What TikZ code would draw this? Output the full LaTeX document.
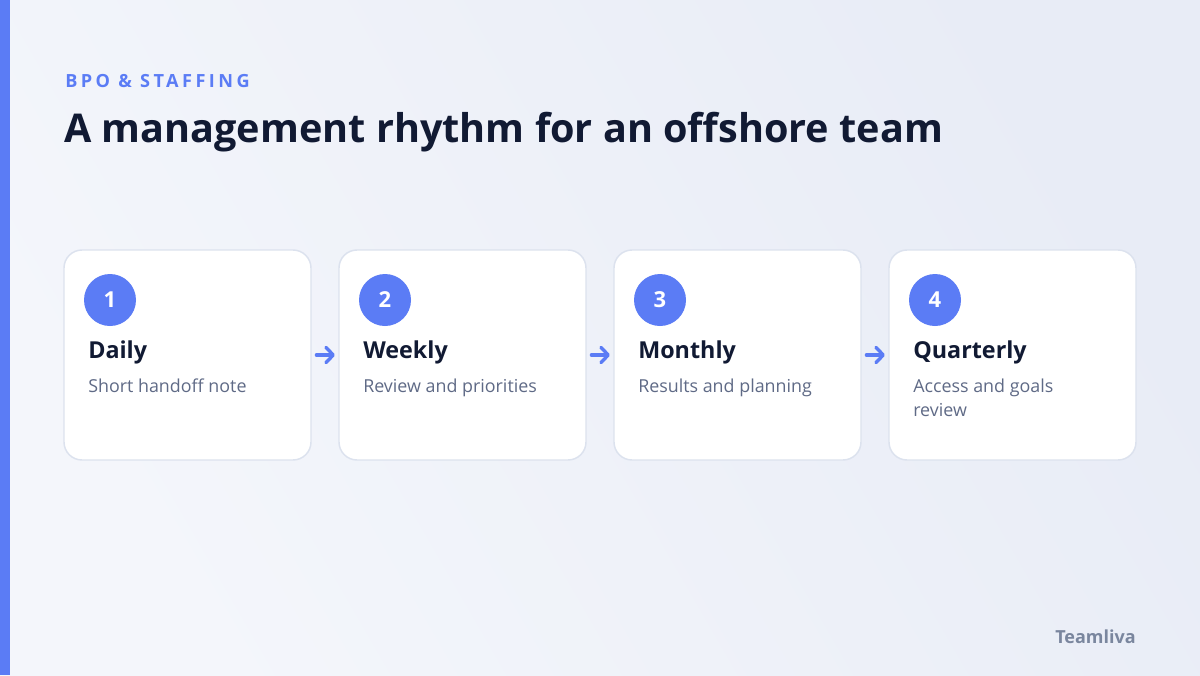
\documentclass[tikz,border=0pt]{standalone}
\usepackage{fontspec}
\setmainfont{Open Sans}
\usetikzlibrary{arrows.meta}
\definecolor{accent}{HTML}{5B7CF5}
\definecolor{navy}{HTML}{111A33}
\definecolor{sub}{HTML}{5F6A86}
\definecolor{cardline}{HTML}{DCE2EE}
\definecolor{bgA}{HTML}{F4F6FB}
\definecolor{bgB}{HTML}{E8ECF6}
\definecolor{brand}{HTML}{7A869E}
\tikzset{
  card/.style={draw=cardline, line width=1.1pt, fill=white, rounded corners=13.5pt,
    minimum width=185.25pt, minimum height=157.5pt, inner sep=0pt},
  badge/.style={circle, fill=accent, minimum size=39pt, inner sep=0pt, text=white,
    font=\fontsize{16.5}{20}\selectfont\bfseries},
  ctitle/.style={anchor=base west, inner sep=0pt, text=navy, font=\fontsize{17.5}{21}\selectfont\bfseries},
  cdesc/.style={anchor=base west, inner sep=0pt, text=sub,
    font=\fontsize{13.4}{18}\selectfont},
  flow/.style={draw=accent, line width=2.5pt, line cap=round, -{Straight Barb[round,length=5.5pt,width=11.5pt]},
    shorten <=3.5pt, shorten >=2.5pt}
}
\newcommand\lines[1]{\begin{tabular}[t]{@{}l@{}}#1\end{tabular}}
\begin{document}
\begin{tikzpicture}[x=0.75pt,y=-0.75pt]
\useasboundingbox (0,0) rectangle (1200,675);
\shade[left color=bgA, right color=bgB, shading angle=120] (0,0) rectangle (1200,675);
\fill[accent] (0,0) rectangle (10,675);
\node[anchor=base west, inner sep=0pt, text=accent, font=\fontsize{13.6}{16}\selectfont\bfseries\addfontfeature{LetterSpace=19}] (kicker) at (65,87) {BPO \& STAFFING};
\node[anchor=base west, inner sep=0pt, text=navy, font=\fontsize{29.7}{36}\selectfont\bfseries] (title) at (64,142) {A management rhythm for an offshore team};
\foreach \i/\cx/\t/\d in {1/187.5/Daily/Short handoff note, 2/462.5/Weekly/Review and priorities, 3/737.5/Monthly/Results and planning, 4/1012.5/Quarterly/{Access and goals\\review}} {
  \node[card] (c\i) at (\cx,355) {};
  \node[badge] (b\i) at (\cx-77.5,300) {\i};
  \node[ctitle] (t\i) at (\cx-99.5,358) {\t};
  \node[cdesc] (d\i) at (\cx-99.5,392) {\lines{\d}};
}
\draw[flow] (c1.east) -- (c2.west);
\draw[flow] (c2.east) -- (c3.west);
\draw[flow] (c3.east) -- (c4.west);
\node[anchor=base east, inner sep=0pt, text=brand, font=\fontsize{13.5}{16}\selectfont\bfseries] (brand) at (1136,643) {Teamliva};
\end{tikzpicture}
\end{document}
